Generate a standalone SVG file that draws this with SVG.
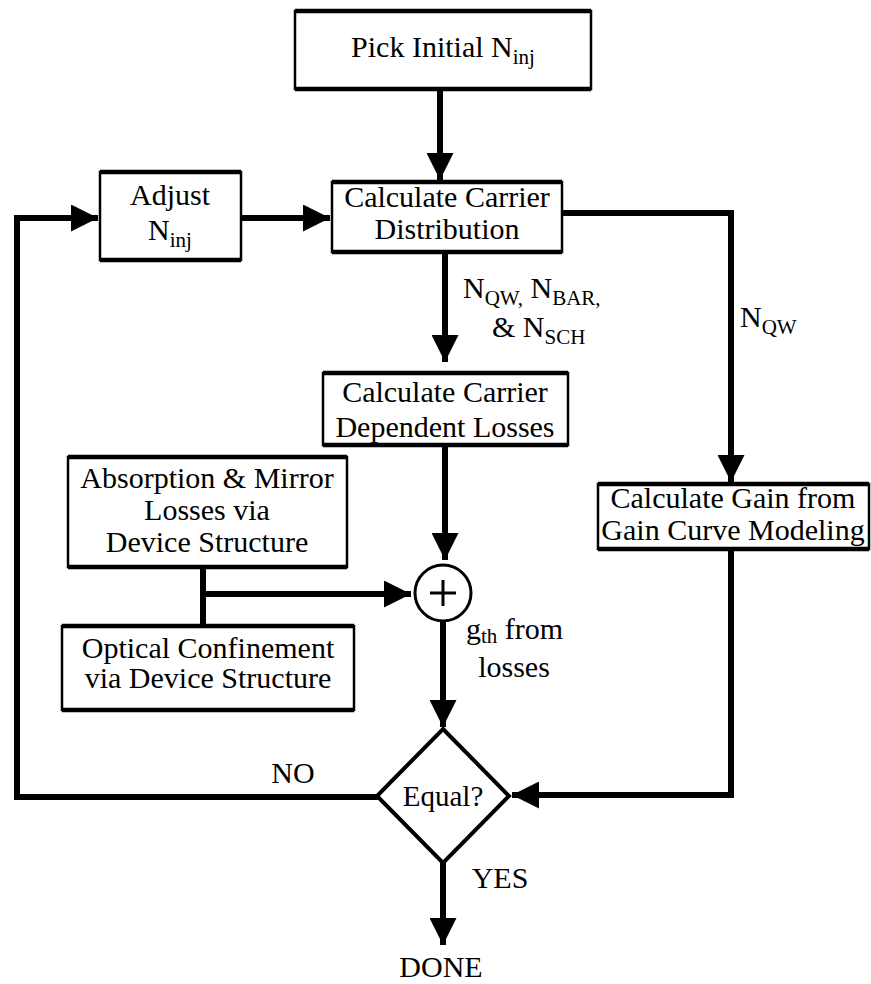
<svg xmlns="http://www.w3.org/2000/svg" width="871" height="984" viewBox="0 0 871 984">
<style>
text{font-family:"Liberation Serif","Times New Roman",serif;font-size:30px;fill:#000}
.c{text-anchor:middle}
.sub{font-size:21px}
.box{fill:#fff;stroke:#000;stroke-width:2.5}
.tb{fill:none;stroke:#000;stroke-width:4.5}
.edge{fill:none;stroke:#000;stroke-width:6}
</style>
<defs>
<marker id="ah" viewBox="0 0 10 10" refX="10" refY="5" markerWidth="6.5" markerHeight="4.5" markerUnits="strokeWidth" orient="auto"><path d="M0,0 L10,5 L0,10 Z" fill="#000"/></marker>
</defs>
<g id="connectors">
<path class="edge" d="M440,89 V180" marker-end="url(#ah)"/>
<path class="edge" d="M241,218 H330" marker-end="url(#ah)"/>
<path class="edge" d="M378,797 H17 V218 H98" marker-end="url(#ah)"/>
<path class="edge" d="M562,213 H731 V482" marker-end="url(#ah)"/>
<path class="edge" d="M445,252 V362" marker-end="url(#ah)"/>
<path class="edge" d="M445,445 V560" marker-end="url(#ah)"/>
<path class="edge" d="M203,567 V626 M203,594 H411" marker-end="url(#ah)"/>
<path class="edge" d="M443,621 V727" marker-end="url(#ah)"/>
<path class="edge" d="M731,549 V795 H512" marker-end="url(#ah)"/>
<path class="edge" d="M443,863 V945" marker-end="url(#ah)"/>
<text x="463" y="298">N<tspan class="sub" dy="7">QW,</tspan><tspan dy="-7"> N</tspan><tspan class="sub" dy="7">BAR,</tspan></text>
<text x="492" y="337">&amp; N<tspan class="sub" dy="7">SCH</tspan></text>
<text x="740" y="327">N<tspan class="sub" dy="7">QW</tspan></text>
<text x="466" y="639">g<tspan class="sub" dy="4">th</tspan><tspan dy="-4"> from</tspan></text>
<text x="514" y="677" class="c">losses</text>
<text x="293" y="783" class="c">NO</text>
<text x="500" y="888" class="c">YES</text>
<text x="441" y="977" class="c">DONE</text>
</g>
<g id="pick">
<rect class="box" x="295" y="11" width="296" height="78"/>
<path class="tb" d="M295,11 H591 M295,89 H591"/>
<text x="443" y="57" class="c">Pick Initial N<tspan class="sub" dy="7">inj</tspan></text>
</g>
<g id="adjust">
<rect class="box" x="100" y="172" width="141" height="88"/>
<path class="tb" d="M100,172 H241 M100,260 H241"/>
<text x="170" y="205" class="c">Adjust</text>
<text x="170" y="240" class="c">N<tspan class="sub" dy="7">inj</tspan></text>
</g>
<g id="carrier">
<rect class="box" x="332" y="182" width="230" height="70"/>
<path class="tb" d="M332,182 H562 M332,252 H562"/>
<text x="447" y="207" class="c">Calculate Carrier</text>
<text x="447" y="239" class="c">Distribution</text>
</g>
<g id="losses">
<rect class="box" x="323" y="373" width="245" height="72"/>
<path class="tb" d="M323,373 H568 M323,445 H568"/>
<text x="445" y="402" class="c">Calculate Carrier</text>
<text x="445" y="437" class="c">Dependent Losses</text>
</g>
<g id="absorption">
<rect class="box" x="68" y="457" width="279" height="110"/>
<path class="tb" d="M68,457 H347 M68,567 H347"/>
<text x="207" y="488" class="c">Absorption &amp; Mirror</text>
<text x="207" y="520" class="c">Losses via</text>
<text x="207" y="552" class="c">Device Structure</text>
</g>
<g id="optical">
<rect class="box" x="62" y="626" width="292" height="84"/>
<path class="tb" d="M62,626 H354 M62,710 H354"/>
<text x="208" y="658" class="c">Optical Confinement</text>
<text x="208" y="688" class="c">via Device Structure</text>
</g>
<g id="sum">
<circle cx="443" cy="593" r="28" fill="#fff" stroke="#000" stroke-width="3"/>
<path d="M443,580 V606 M430,593 H456" stroke="#000" stroke-width="3"/>
</g>
<g id="gain">
<rect class="box" x="598" y="484" width="271" height="65"/>
<path class="tb" d="M598,484 H869 M598,549 H869"/>
<text x="733" y="508" class="c">Calculate Gain from</text>
<text x="733" y="540" class="c">Gain Curve Modeling</text>
</g>
<g id="equal">
<path d="M443,729 L509,796 L443,863 L377,796 Z" fill="#fff" stroke="#000" stroke-width="4"/>
<text x="443" y="806" class="c" style="font-size:29px">Equal?</text>
</g>
</svg>
